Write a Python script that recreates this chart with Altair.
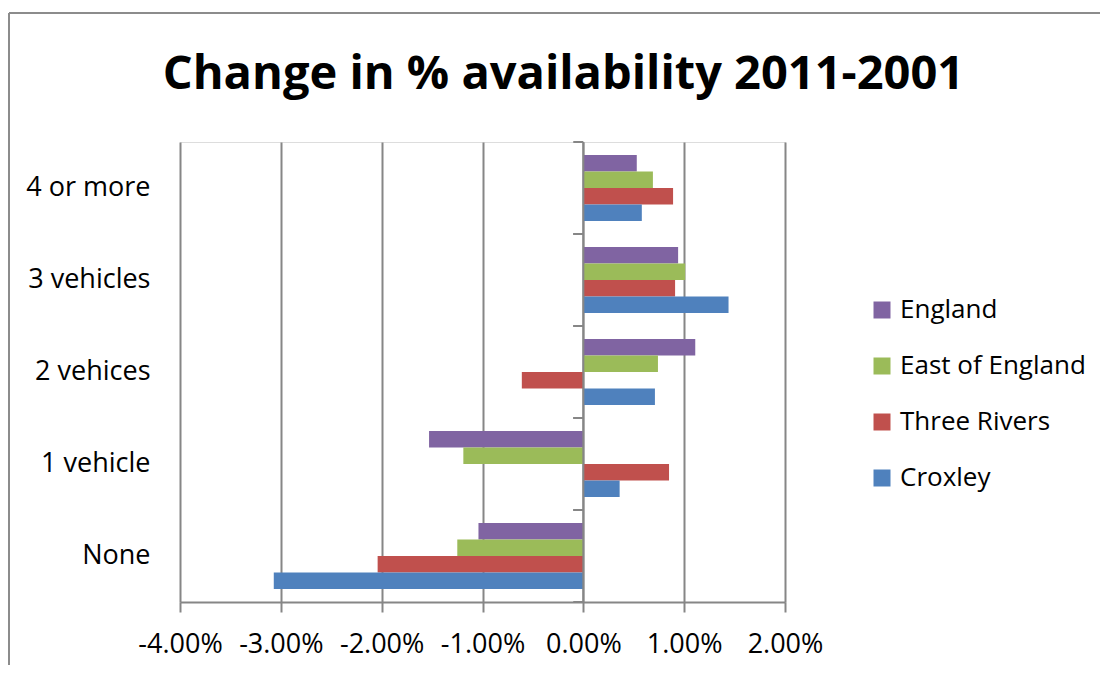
import altair as alt
import pandas as pd

categories = ["4 or more", "3 vehicles", "2 vehices", "1 vehicle", "None"]
series = ["England", "East of England", "Three Rivers", "Croxley"]
colors = ["#8064A2", "#9BBB59", "#C0504D", "#4F81BD"]
# values in percent
england = [0.53, 0.94, 1.11, -1.53, -1.04]
east_of_england = [0.69, 1.01, 0.74, -1.19, -1.25]
three_rivers = [0.89, 0.91, -0.61, 0.85, -2.04]
croxley = [0.58, 1.44, 0.71, 0.36, -3.07]
x_ticks = [-0.04, -0.03, -0.02, -0.01, 0.0, 0.01, 0.02]

rows = []
for name, vals in zip(series, [england, east_of_england, three_rivers, croxley]):
    for c, v in zip(categories, vals):
        rows.append({"category": c, "series": name, "value": v / 100.0})
df = pd.DataFrame(rows)

GRID = "#868686"
FONT = "Open Sans"

x_scale = alt.Scale(domain=[-0.04, 0.02], nice=False, zero=False)
y_scale = alt.Scale(paddingInner=0.284, paddingOuter=0.142)
y_axis = alt.Axis(ticks=False, domain=False, labelPadding=30, labelFontSize=27,
                  labelColor="black", grid=False, title=None, labelFont=FONT)

bars = alt.Chart(df).mark_bar().encode(
    x=alt.X("value:Q", scale=x_scale,
            axis=alt.Axis(values=x_ticks, title=None, grid=True,
                          labelExpr="replace(format(datum.value, '.2%'), '\u2212', '-')",
                          gridColor=GRID, gridWidth=2, gridOpacity=1,
                          domainColor=GRID, domainWidth=2, tickColor=GRID,
                          tickWidth=2, tickSize=10, labelFontSize=27,
                          labelColor="black", labelPadding=19, labelFlush=False,
                          labelOverlap=False, labelFont=FONT)),
    y=alt.Y("category:N", sort=categories, scale=y_scale, axis=y_axis),
    yOffset=alt.YOffset("series:N", sort=series),
    color=alt.Color("series:N", sort=series,
                    scale=alt.Scale(domain=series, range=colors),
                    legend=alt.Legend(title=None, orient="none", legendX=689,
                                      legendY=155, symbolType="square",
                                      symbolSize=289, symbolStrokeWidth=0,
                                      symbolOpacity=1, labelLimit=0,
                                      labelFontSize=26, labelColor="black",
                                      labelFont=FONT, rowPadding=30,
                                      labelOffset=5, padding=0)),
)

zero_line = alt.Chart(alt.Data(values=[{"z": 0.0}])).mark_rule(
    color=GRID, strokeWidth=2).encode(x=alt.X("z:Q", scale=x_scale))

border_top = alt.Chart(alt.Data(values=[{}])).mark_rule(
    color="#8c8c8c", strokeWidth=2).encode(
    x=alt.value(-171), x2=alt.value(920), y=alt.value(-129))
border_left = alt.Chart(alt.Data(values=[{}])).mark_rule(
    color="#8c8c8c", strokeWidth=2).encode(
    x=alt.value(-171), y=alt.value(-129), y2=alt.value(530))

main = alt.layer(bars, zero_line, border_top, border_left)

tick_df = pd.DataFrame({"category": categories, "x0": [-0.001] * 5, "x1": [0.0] * 5})
tick_scale = alt.Scale(domain=categories, paddingInner=0, paddingOuter=0)
ticks_top = alt.Chart(tick_df).mark_rule(color=GRID, strokeWidth=2).encode(
    y=alt.Y("category:N", sort=categories, bandPosition=0, scale=tick_scale, axis=None),
    x=alt.X("x0:Q", scale=x_scale),
    x2="x1:Q",
)
ticks_bottom = alt.Chart(tick_df).mark_rule(color=GRID, strokeWidth=2).encode(
    y=alt.Y("category:N", sort=categories, bandPosition=1, scale=tick_scale, axis=None),
    x=alt.X("x0:Q", scale=x_scale),
    x2="x1:Q",
)
tick_layer = alt.layer(ticks_top, ticks_bottom)

chart = alt.layer(main, tick_layer).resolve_scale(y="independent").properties(
    width=605,
    height=460,
    autosize=alt.AutoSizeParams(type="none"),
    padding={"left": 172, "top": 134, "right": 315, "bottom": 63},
    title=alt.TitleParams("Change in % availability 2011-2001", fontSize=47,
                          fontWeight="bold", font=FONT, color="black",
                          anchor="middle", frame="group", dx=81, offset=-124,
                          baseline="alphabetic"),
).configure_view(stroke=None).configure(font=FONT)

chart.save("out.html", embed_options={"renderer": "svg", "actions": False})
